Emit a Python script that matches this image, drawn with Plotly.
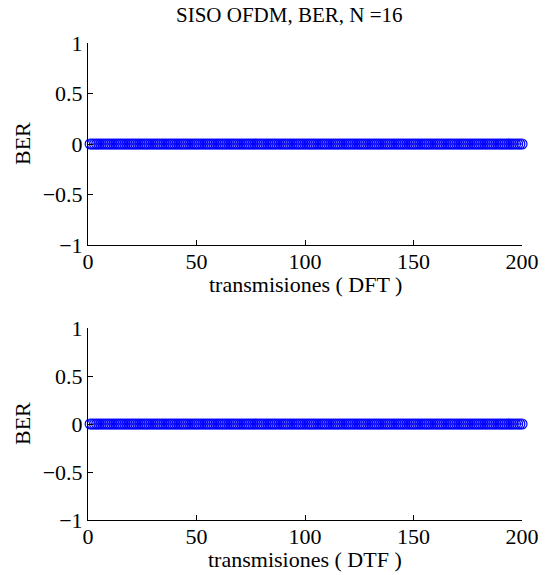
import plotly.graph_objects as go
from plotly.subplots import make_subplots

# Data: 200 transmissions, BER = 0 for every one
transmisiones = list(range(1, 201))
ber_dft = [
    0, 0, 0, 0, 0, 0, 0, 0, 0, 0, 0, 0, 0, 0, 0, 0, 0, 0, 0, 0,
    0, 0, 0, 0, 0, 0, 0, 0, 0, 0, 0, 0, 0, 0, 0, 0, 0, 0, 0, 0,
    0, 0, 0, 0, 0, 0, 0, 0, 0, 0, 0, 0, 0, 0, 0, 0, 0, 0, 0, 0,
    0, 0, 0, 0, 0, 0, 0, 0, 0, 0, 0, 0, 0, 0, 0, 0, 0, 0, 0, 0,
    0, 0, 0, 0, 0, 0, 0, 0, 0, 0, 0, 0, 0, 0, 0, 0, 0, 0, 0, 0,
    0, 0, 0, 0, 0, 0, 0, 0, 0, 0, 0, 0, 0, 0, 0, 0, 0, 0, 0, 0,
    0, 0, 0, 0, 0, 0, 0, 0, 0, 0, 0, 0, 0, 0, 0, 0, 0, 0, 0, 0,
    0, 0, 0, 0, 0, 0, 0, 0, 0, 0, 0, 0, 0, 0, 0, 0, 0, 0, 0, 0,
    0, 0, 0, 0, 0, 0, 0, 0, 0, 0, 0, 0, 0, 0, 0, 0, 0, 0, 0, 0,
    0, 0, 0, 0, 0, 0, 0, 0, 0, 0, 0, 0, 0, 0, 0, 0, 0, 0, 0, 0,
]
ber_dtf = [
    0, 0, 0, 0, 0, 0, 0, 0, 0, 0, 0, 0, 0, 0, 0, 0, 0, 0, 0, 0,
    0, 0, 0, 0, 0, 0, 0, 0, 0, 0, 0, 0, 0, 0, 0, 0, 0, 0, 0, 0,
    0, 0, 0, 0, 0, 0, 0, 0, 0, 0, 0, 0, 0, 0, 0, 0, 0, 0, 0, 0,
    0, 0, 0, 0, 0, 0, 0, 0, 0, 0, 0, 0, 0, 0, 0, 0, 0, 0, 0, 0,
    0, 0, 0, 0, 0, 0, 0, 0, 0, 0, 0, 0, 0, 0, 0, 0, 0, 0, 0, 0,
    0, 0, 0, 0, 0, 0, 0, 0, 0, 0, 0, 0, 0, 0, 0, 0, 0, 0, 0, 0,
    0, 0, 0, 0, 0, 0, 0, 0, 0, 0, 0, 0, 0, 0, 0, 0, 0, 0, 0, 0,
    0, 0, 0, 0, 0, 0, 0, 0, 0, 0, 0, 0, 0, 0, 0, 0, 0, 0, 0, 0,
    0, 0, 0, 0, 0, 0, 0, 0, 0, 0, 0, 0, 0, 0, 0, 0, 0, 0, 0, 0,
    0, 0, 0, 0, 0, 0, 0, 0, 0, 0, 0, 0, 0, 0, 0, 0, 0, 0, 0, 0,
]
x_ticks = [0, 50, 100, 150, 200]
y_ticks = [-1, -0.5, 0, 0.5, 1]
y_ticklabels = ["\u22121", "\u22120.5", "0", "0.5", "1"]
title_text = "SISO OFDM, BER, N =16"
xlabel_top = "transmisiones ( DFT )"
xlabel_bottom = "transmisiones ( DTF )"
ylabel = "BER"

FONT = "Liberation Serif"
FS = 22
BLUE = "#0000ff"

fig = make_subplots(rows=2, cols=1)

for row, vals in ((1, ber_dft), (2, ber_dtf)):
    fig.add_trace(
        go.Scatter(
            x=transmisiones, y=vals, mode="lines+markers",
            line=dict(color=BLUE, width=1),
            marker=dict(symbol="circle-open", size=10, color=BLUE,
                        line=dict(width=1.2, color=BLUE)),
            showlegend=False, cliponaxis=False,
        ),
        row=row, col=1,
    )

axis_common = dict(
    showgrid=False, zeroline=False, showline=True, linecolor="black",
    linewidth=1, ticks="inside", ticklen=5, tickcolor="black",
    tickfont=dict(family=FONT, size=FS, color="black"), mirror=False,
)

PLOT_H = 575 - 43 - 55
fig.update_xaxes(range=[0, 200], tickvals=x_ticks, ticklabelstandoff=-3,
                 **axis_common)
fig.update_yaxes(range=[-1, 1], tickvals=y_ticks, ticktext=y_ticklabels,
                 **axis_common)
fig.update_layout(
    yaxis=dict(domain=[1 - 202 / PLOT_H, 1]),
    yaxis2=dict(domain=[0, 192 / PLOT_H]),
    xaxis=dict(anchor="y"), xaxis2=dict(anchor="y2"),
)

ann = []
ann.append(dict(text=title_text, xref="x domain", yref="y domain", x=0.5, y=1,
                xshift=-16, yshift=14, yanchor="bottom", showarrow=False,
                font=dict(family=FONT, size=21, color="black")))
for xr, yr, lab in (("x", "y", xlabel_top), ("x2", "y2", xlabel_bottom)):
    ann.append(dict(text=lab, xref=f"{xr} domain", yref=f"{yr} domain",
                    x=0.5, y=0, yshift=-25, yanchor="top", showarrow=False,
                    font=dict(family=FONT, size=FS, color="black")))
    ann.append(dict(text=ylabel, xref=f"{xr} domain", yref=f"{yr} domain",
                    x=0, y=0.5, xshift=-66, xanchor="center", textangle=-90,
                    showarrow=False,
                    font=dict(family=FONT, size=FS, color="black")))

fig.update_layout(
    width=551, height=575,
    margin=dict(l=88, r=19, t=43, b=55),
    paper_bgcolor="white", plot_bgcolor="white",
    annotations=ann,
    font=dict(family=FONT, size=FS, color="black"),
)

fig.write_html("out.html")
